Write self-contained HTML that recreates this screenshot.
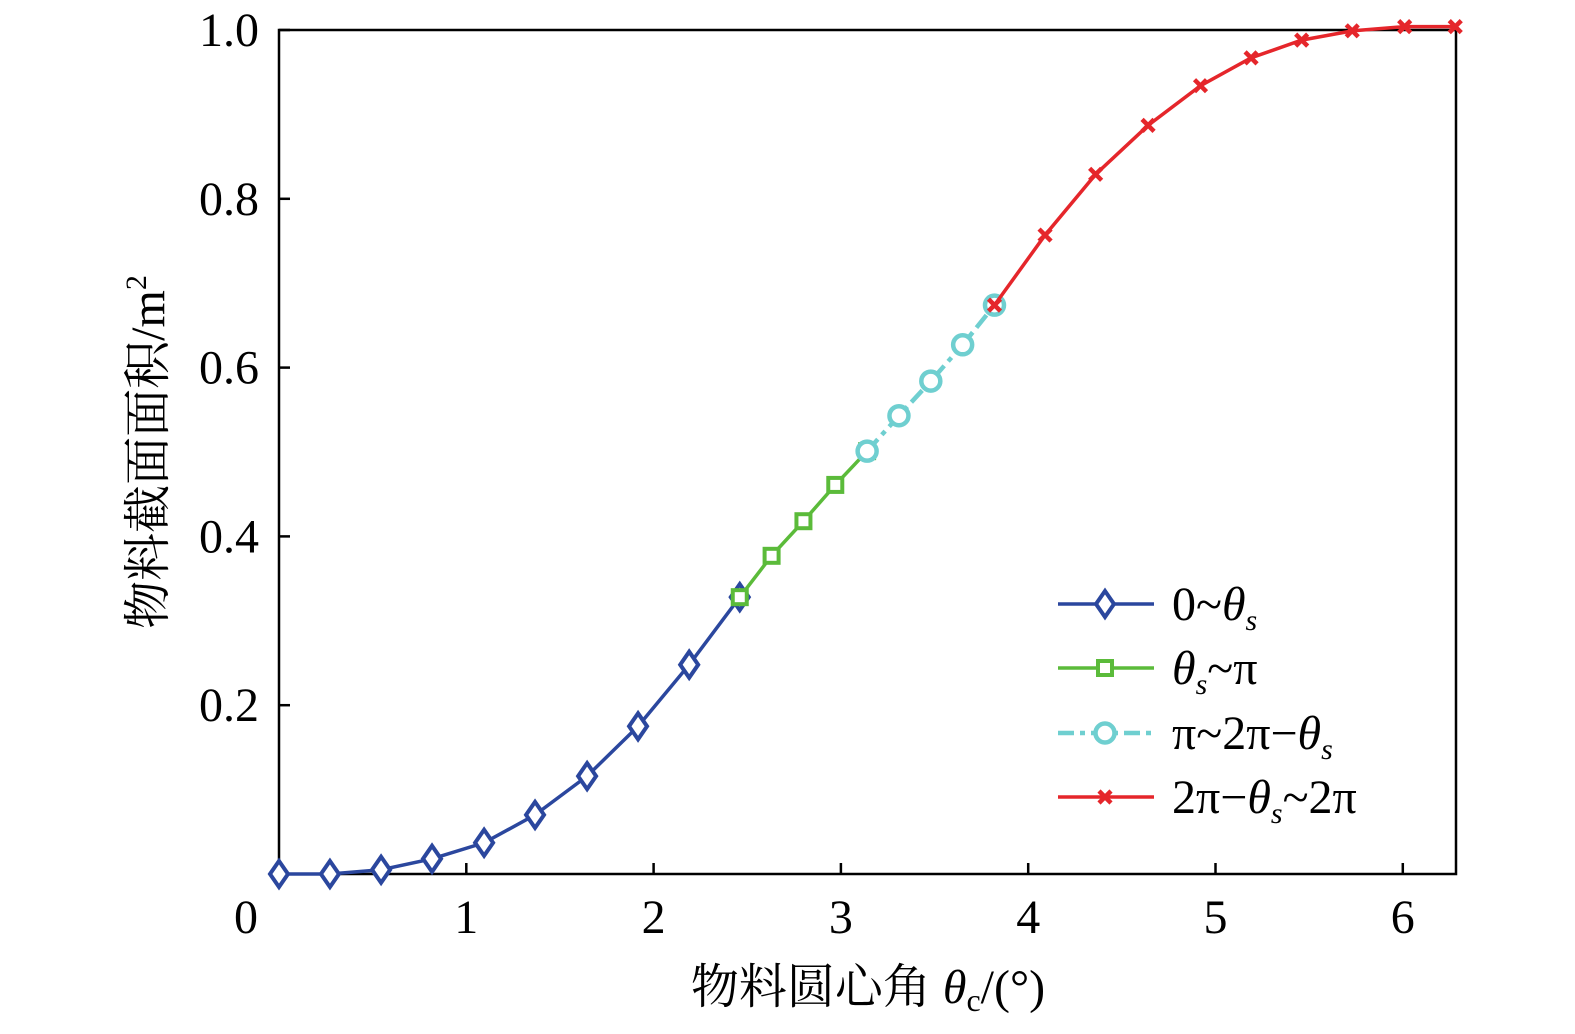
<!DOCTYPE html>
<html><head><meta charset="utf-8"><style>
html,body{margin:0;padding:0;background:#fff;}
svg{display:block;font-family:"Liberation Serif","Noto Serif CJK SC",serif;}
</style></head><body>
<svg id="chart" width="1575" height="1034" viewBox="0 0 1575 1034">
<g id="axes"></g>
<g id="series"></g>
<g id="legend"></g>
</svg>
<script>
const xTicks=[0,1,2,3,4,5,6];
const yTicks=[0.2,0.4,0.6,0.8,1.0];
const yTickLabels=["0.2","0.4","0.6","0.8","1.0"];
const s1x=[0,0.272,0.545,0.817,1.095,1.367,1.645,1.917,2.19,2.46];
const s1y=[0,0,0.005,0.018,0.037,0.07,0.116,0.175,0.248,0.328];
const s2x=[2.46,2.63,2.80,2.97,3.14];
const s2y=[0.328,0.377,0.418,0.461,0.501];
const s3x=[3.14,3.31,3.48,3.65,3.82];
const s3y=[0.501,0.543,0.584,0.627,0.674];
const s4x=[3.82,4.09,4.36,4.64,4.92,5.19,5.46,5.73,6.01,6.28];
const s4y=[0.674,0.757,0.829,0.887,0.934,0.967,0.988,0.999,1.004,1.004];

const NS="http://www.w3.org/2000/svg";
const L=279,R=1456,T=30,B=874;
const xs=v=>L+v*187.3;
const ys=v=>B-v*844;
function mk(tag,attrs,parent,txt){const e=document.createElementNS(NS,tag);for(const k in attrs)e.setAttribute(k,attrs[k]);if(txt!==undefined)e.textContent=txt;parent.appendChild(e);return e;}
const ax=document.getElementById('axes'),se=document.getElementById('series'),lg=document.getElementById('legend');
let fr=mk('rect',{x:L,y:T,width:R-L,height:B-T,fill:'none',stroke:'#000','stroke-width':2.5},ax);

xTicks.forEach(v=>{
 if(v>0){let t=mk('line',{x1:xs(v),x2:xs(v),y1:B,y2:B-11,stroke:'#000','stroke-width':2.5},ax);
 }
 let lb=mk('text',{x:v===0?246:xs(v),y:933,'font-size':48,'text-anchor':'middle'},ax,String(v));
 
});
yTicks.forEach((v,i)=>{
 let t=mk('line',{x1:L,x2:L+11,y1:ys(v),y2:ys(v),stroke:'#000','stroke-width':2.5},ax);
 
 let lb=mk('text',{x:259,y:ys(v)+16,'font-size':48,'text-anchor':'end'},ax,yTickLabels[i]);
 
});
let xt=mk('text',{x:868,y:1003,'font-size':48,'text-anchor':'middle'},ax);
xt.innerHTML='物料圆心角 <tspan font-style="italic">θ</tspan><tspan font-size="32" dy="8">c</tspan><tspan dy="-8">/(°)</tspan>';

let yt=mk('text',{x:0,y:0,'font-size':48,'text-anchor':'middle',transform:'translate(164,452) rotate(-90)'},ax);
yt.innerHTML='物料截面面积/m<tspan font-size="30" dy="-18">2</tspan>';


function marker(type,x,y,col,parent){
 let e;
 if(type==='d')e=mk('polygon',{points:`${x},${y-13} ${x+9},${y} ${x},${y+13} ${x-9},${y}`,fill:'#fff',stroke:col,'stroke-width':4},parent);
 else if(type==='s')e=mk('rect',{x:x-7,y:y-7,width:14,height:14,fill:'#fff',stroke:col,'stroke-width':4},parent);
 else if(type==='c')e=mk('circle',{cx:x,cy:y,r:9.5,fill:'#fff',stroke:col,'stroke-width':4.5},parent);
 else e=mk('path',{d:`M${x-6},${y-6}L${x+6},${y+6}M${x+6},${y-6}L${x-6},${y+6}`,stroke:col,'stroke-width':4.5},parent);
 return e;
}
const defs=[[s1x,s1y,'#2b479e','d',null,'series-0-theta-s'],[s2x,s2y,'#5bbb3a','s',null,'series-theta-s-pi'],[s3x,s3y,'#6fcfd0','c','16 6 5 6','series-pi-2pi-theta-s'],[s4x,s4y,'#e5262b','x',null,'series-2pi-theta-s-2pi']];
defs.forEach(([X,Y,col,m,dash,name])=>{
 const g=mk('g',{},se);
 const a={points:X.map((v,i)=>xs(v)+','+ys(Y[i])).join(' '),fill:'none',stroke:col,'stroke-width':dash?4.5:3.5};
 if(dash)a['stroke-dasharray']=dash;
 let pl=mk('polyline',a,g);
 X.forEach((v,i)=>{let mm=marker(m,xs(v),ys(Y[i]),col,g);});
});
const labels=['0~<tspan font-style="italic">θ</tspan><tspan font-size="30" dy="10" font-style="italic">s</tspan>',
'<tspan font-style="italic">θ</tspan><tspan font-size="30" dy="10" font-style="italic">s</tspan><tspan dy="-10">~π</tspan>',
'π~2π−<tspan font-style="italic">θ</tspan><tspan font-size="30" dy="10" font-style="italic">s</tspan>',
'2π−<tspan font-style="italic">θ</tspan><tspan font-size="30" dy="10" font-style="italic">s</tspan><tspan dy="-10">~2π</tspan>'];
[604,668,733,797].forEach((yy,i)=>{
 const [X,Y,col,m,dash]=defs[i];
 const g=mk('g',{},lg);
 const a={x1:1058,x2:1154,y1:yy,y2:yy,stroke:col,'stroke-width':dash?4.5:3.5};if(dash)a['stroke-dasharray']=dash;
 mk('line',a,g);marker(m,1105,yy,col,g);
 const t=mk('text',{x:1172,y:yy+16,'font-size':48},g);t.innerHTML=labels[i];
});
</script>
</body></html>
